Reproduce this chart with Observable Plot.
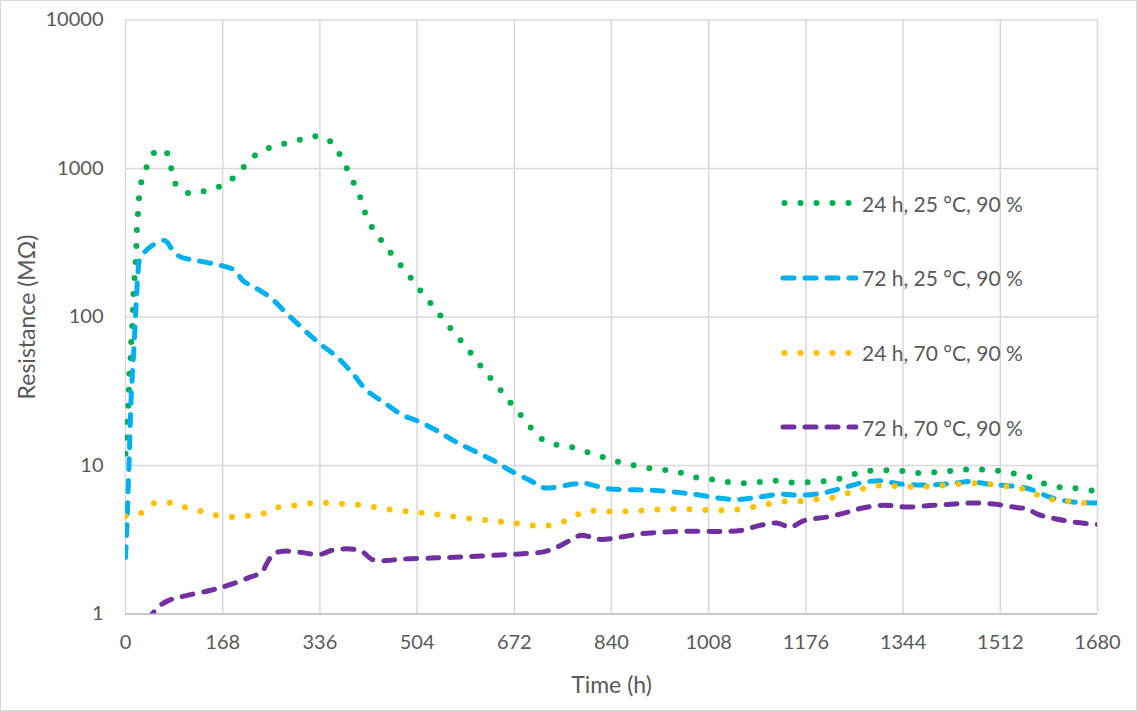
<!DOCTYPE html>
<html>
<head>
<meta charset="utf-8">
<script src="https://cdn.jsdelivr.net/npm/d3@7"></script>
<script src="https://cdn.jsdelivr.net/npm/@observablehq/plot@0.6"></script>
<style>
  html, body { margin: 0; padding: 0; background: #fff; }
  #wrap { position: relative; width: 1137px; height: 711px; overflow: hidden; font-family: Lato, "Open Sans", sans-serif; color: #595959; }
  #border { position: absolute; left: 0; top: 0; width: 1137px; height: 711px; box-sizing: border-box; border: 1.5px solid #d9d9d9; pointer-events: none; }
  #chart { position: absolute; left: 0; top: 0; }
  #legend { position: absolute; left: 780px; top: 185px; }
  .lg-row { position: absolute; left: 0; height: 36px; display: flex; align-items: center; white-space: nowrap; font-size: 21px; color: #595959; }
  .lg-row svg { display: block; margin-right: 4px; }
</style>
</head>
<body>
<div id="wrap">
  <div id="chart"></div>
  <div id="legend"></div>
  <div id="border"></div>
</div>
<script>
// ---- Axis ticks ----
const xTicks = [0, 168, 336, 504, 672, 840, 1008, 1176, 1344, 1512, 1680];
const yTicks = [1, 10, 100, 1000, 10000];

// ---- Series names ----
const seriesNames = ["24 h, 25 °C, 90 %", "72 h, 25 °C, 90 %", "24 h, 70 °C, 90 %", "72 h, 70 °C, 90 %"];
const seriesColors = ["#00B050", "#00B0F0", "#FFC000", "#7030A0"];

// ---- 24 h, 25 °C, 90 % ----
const s1Hours = [0, 2, 3, 5, 6, 7, 9, 10, 12, 13, 14, 16, 18, 19, 20, 22, 24, 29, 40, 56, 75, 80, 89, 111, 139, 167, 189, 208, 228, 253, 281, 308, 336, 359, 373, 386, 398, 409, 417, 431, 448, 465, 483, 500, 517, 535, 552, 570, 588, 605, 623, 641, 658, 676, 694, 712, 735, 762, 789, 816, 843, 870, 897, 926, 953, 980, 1008, 1035, 1063, 1092, 1119, 1147, 1175, 1203, 1231, 1258, 1286, 1314, 1341, 1370, 1397, 1426, 1454, 1482, 1510, 1537, 1565, 1590, 1618, 1646, 1680];
const s1Values = [12, 16, 20, 26, 33, 43, 54, 70, 90, 116, 150, 192, 246, 316, 406, 522, 671, 860, 1090, 1350, 1230, 960, 760, 680, 710, 770, 880, 1060, 1260, 1400, 1490, 1580, 1650, 1460, 1180, 940, 745, 593, 466, 375, 306, 250, 206, 169, 138, 114, 93, 77, 63, 52, 42, 35, 28.7, 23.6, 19.4, 15.9, 14, 13.6, 12.6, 11.7, 10.8, 10.2, 9.7, 9.4, 9.1, 8.4, 8.1, 7.8, 7.6, 7.7, 7.9, 7.7, 7.7, 7.8, 8.1, 8.7, 9.2, 9.3, 9.2, 8.9, 9.0, 9.2, 9.4, 9.4, 9.2, 8.8, 8.3, 7.5, 7.1, 7.0, 6.7];

// ---- 72 h, 25 °C, 90 % ----
const s2Hours = [0, 2, 6, 10, 15, 19, 22, 25, 42, 68, 82, 94, 123, 166, 189, 203, 227, 250, 273, 307, 336, 365, 394, 417, 446, 480, 503, 538, 567, 601, 636, 665, 700, 723, 740, 774, 792, 832, 878, 913, 953, 982, 1022, 1057, 1092, 1132, 1167, 1207, 1236, 1276, 1305, 1340, 1392, 1432, 1461, 1490, 1542, 1565, 1599, 1634, 1680];
const s2Values = [2.4, 3.5, 10, 30, 66, 136, 207, 247, 295, 327, 280, 255, 240, 222, 206, 176, 155, 136, 111, 83, 66, 54, 41, 32, 26.7, 21.7, 20.1, 17.2, 14.7, 12.6, 10.8, 9.25, 7.9, 7.08, 7.1, 7.5, 7.6, 7.0, 6.86, 6.8, 6.6, 6.4, 6.06, 5.9, 6.1, 6.4, 6.3, 6.55, 7.0, 7.7, 7.9, 7.5, 7.4, 7.6, 7.8, 7.5, 7.2, 6.9, 6.1, 5.7, 5.6];

// ---- 24 h, 70 °C, 90 % ----
const s3Hours = [0, 28, 51, 78, 105, 133, 159, 187, 215, 243, 269, 297, 325, 352, 381, 409, 436, 464, 492, 521, 548, 576, 604, 632, 660, 688, 717, 744, 770, 795, 823, 851, 879, 907, 935, 964, 991, 1020, 1048, 1076, 1103, 1131, 1159, 1187, 1215, 1242, 1270, 1296, 1324, 1352, 1381, 1408, 1437, 1465, 1493, 1521, 1548, 1575, 1602, 1630, 1657, 1680];
const s3Values = [4.56, 4.8, 5.6, 5.6, 5.2, 4.9, 4.6, 4.5, 4.6, 4.8, 5.3, 5.4, 5.6, 5.6, 5.5, 5.4, 5.2, 5.0, 4.9, 4.77, 4.63, 4.49, 4.35, 4.26, 4.13, 4.03, 3.9, 4.03, 4.4, 4.95, 4.9, 4.9, 4.95, 5.03, 5.07, 5.1, 5.03, 5.0, 5.0, 5.2, 5.4, 5.7, 5.7, 5.9, 6.0, 6.4, 6.9, 7.3, 7.3, 7.2, 7.2, 7.3, 7.5, 7.6, 7.5, 7.25, 7.0, 6.35, 5.9, 5.75, 5.6, 5.55];

// ---- 72 h, 70 °C, 90 % ----
const s4Hours = [38, 56, 74, 105, 146, 163, 186, 215, 235, 247, 256, 273, 302, 336, 359, 394, 411, 426, 452, 475, 527, 567, 607, 648, 682, 717, 740, 763, 786, 804, 821, 855, 890, 930, 965, 1005, 1034, 1063, 1097, 1126, 1149, 1173, 1213, 1248, 1276, 1311, 1351, 1397, 1432, 1467, 1501, 1542, 1559, 1576, 1605, 1640, 1680];
const s4Values = [0.9, 1.11, 1.23, 1.33, 1.44, 1.5, 1.6, 1.77, 1.91, 2.29, 2.54, 2.65, 2.6, 2.52, 2.7, 2.73, 2.6, 2.33, 2.29, 2.34, 2.38, 2.41, 2.45, 2.5, 2.54, 2.6, 2.75, 3.05, 3.38, 3.3, 3.18, 3.29, 3.47, 3.56, 3.6, 3.6, 3.6, 3.65, 3.95, 4.1, 3.85, 4.26, 4.5, 4.85, 5.2, 5.4, 5.25, 5.4, 5.5, 5.6, 5.5, 5.2, 5.1, 4.7, 4.4, 4.15, 4.0];

const hoursList = [s1Hours, s2Hours, s3Hours, s4Hours];
const valuesList = [s1Values, s2Values, s3Values, s4Values];
const dashes = ["0 16", "11 11", "0 16", "11 11"];
const widths = [6, 5, 6, 5];

const seriesData = seriesNames.map((name, i) =>
  hoursList[i].map((h, j) => ({ series: name, hours: h, value: valuesList[i][j] }))
);

const lineMarks = seriesData.map((data, i) =>
  Plot.line(data, {
    x: "hours", y: "value",
    stroke: seriesColors[i], strokeWidth: widths[i],
    strokeDasharray: dashes[i], strokeLinecap: "round", strokeLinejoin: "round",
    curve: "catmull-rom", clip: true
  })
);

const chart = Plot.plot({
  width: 1137,
  height: 711,
  marginLeft: 125,
  marginRight: 40,
  marginTop: 19.5,
  marginBottom: 97.5,
  style: { fontFamily: "Lato, 'Open Sans', sans-serif", fontSize: "20px", color: "#595959", background: "transparent", overflow: "visible" },
  x: { domain: [0, 1680] },
  y: { type: "log", domain: [1, 10000] },
  marks: [
    Plot.gridX(xTicks, { stroke: "#d9d9d9", strokeOpacity: 1, strokeWidth: 1.5 }),
    Plot.gridY(yTicks, { stroke: "#d9d9d9", strokeOpacity: 1, strokeWidth: 1.5 }),
    Plot.ruleY([1], { stroke: "#bfbfbf", strokeWidth: 1.5 }),
    Plot.axisX(xTicks, { tickSize: 0, tickPadding: 21, label: null, tickFormat: d => String(d), fontSize: 20, fill: "#595959" }),
    Plot.axisY(yTicks, { tickSize: 0, tickPadding: 22, label: null, tickFormat: d => String(d), fontSize: 20, fill: "#595959" }),
    Plot.text(["Time (h)"], { frameAnchor: "bottom", dy: 72, lineAnchor: "middle", fontSize: 23, fill: "#595959" }),
    Plot.text(["Resistance (MΩ)"], { frameAnchor: "left", dx: -98, rotate: -90, lineAnchor: "middle", textAnchor: "middle", fontSize: 23, fill: "#595959" }),
    ...lineMarks
  ]
});
document.getElementById("chart").appendChild(chart);

// ---- Legend (HTML overlay inside plot area) ----
const legend = d3.select("#legend");
const rowTops = [0, 74.7, 149.5, 224.2];
seriesNames.forEach((name, i) => {
  const row = legend.append("div").attr("class", "lg-row").style("top", rowTops[i] + "px");
  const svg = row.append("svg").attr("width", 78).attr("height", 36);
  svg.append("line")
    .attr("x1", i % 2 === 0 ? 4.5 : 3).attr("x2", 76).attr("y1", 18).attr("y2", 18)
    .attr("stroke", seriesColors[i]).attr("stroke-width", widths[i])
    .attr("stroke-linecap", "round").attr("stroke-dasharray", dashes[i]);
  row.append("span").text(name);
});
</script>
</body>
</html>
